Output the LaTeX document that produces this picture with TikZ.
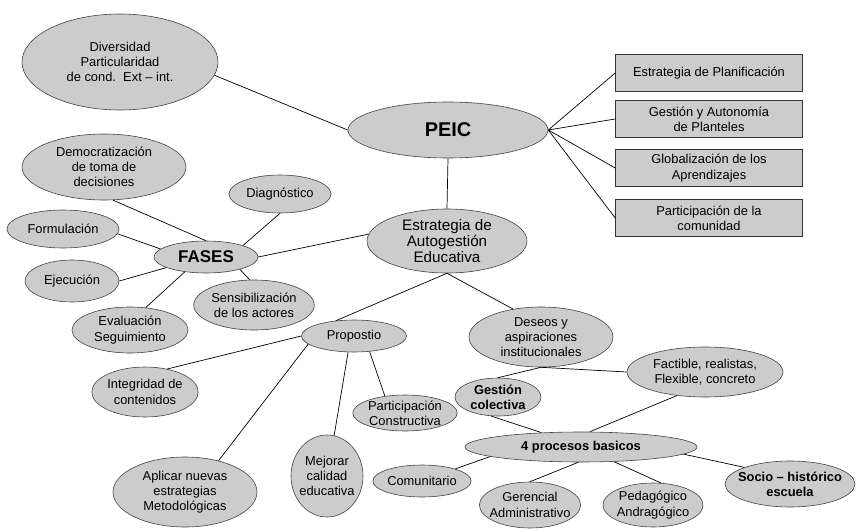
\documentclass[tikz,border=0pt]{standalone}
\usepackage{fontspec}
\setmainfont{Liberation Sans}
\usepackage{tikz}
\usetikzlibrary{shapes.geometric}
\newcommand{\px}{0.03cm}
\newcommand{\blobcolor}{black!20}
\newcommand{\rim}{0.5pt}

\begin{document}
\begin{tikzpicture}[x=\px, y=-\px,
  blob/.style={ellipse, draw=black!75, line width=\rim, fill=\blobcolor, inner sep=0pt, align=center, font=\fontsize{11}{13}\selectfont},
  box/.style={rectangle, draw=black!80, line width=\rim, fill=\blobcolor, inner sep=0pt, align=center, minimum width=187*\px, minimum height=37*\px, font=\fontsize{11}{13}\selectfont},
  link/.style={draw=black, line width=0.6pt}]
\useasboundingbox (0,0) rectangle (856,532);
%PEIC
\node[blob] (1) at (120, 62) [minimum width=196*\px, minimum height=96*\px] {Diversidad\\Particularidad\\de cond.\ \ Ext – int.};
\node[blob] (2) at (448, 130) [minimum width=200*\px, minimum height=56*\px, font=\fontsize{17}{19}\selectfont\bfseries] {PEIC};
\node[box] (3) at (709, 73) {Estrategia de Planificación};
\node[box] (4) at (709, 119) {Gestión y Autonomía\\de Planteles};
\node[box] (5) at (709, 168) {Globalización de los\\Aprendizajes};
\node[box] (6) at (709, 218) {Participación de la\\comunidad};
\node[blob] (7) at (447, 241) [minimum width=160*\px, minimum height=64*\px, font=\fontsize{13}{14}\selectfont] {Estrategia de\\Autogestión\\Educativa};
%FASES
\node[blob] (8) at (104, 167) [minimum width=164*\px, minimum height=66*\px] {Democratización\\de toma de\\decisiones};
\node[blob] (9) at (280, 194) [minimum width=102*\px, minimum height=38*\px] {Diagnóstico};
\node[blob] (10) at (63, 229) [minimum width=112*\px, minimum height=38*\px] {Formulación};
\node[blob] (11) at (206, 257) [minimum width=104*\px, minimum height=32*\px, font=\fontsize{14.5}{16}\selectfont\bfseries] {FASES};
\node[blob] (12) at (72, 281) [minimum width=94*\px, minimum height=42*\px] {Ejecución};
\node[blob] (13) at (130, 330) [minimum width=116*\px, minimum height=46*\px] {Evaluación\\Seguimiento};
\node[blob] (14) at (254, 305) [minimum width=118*\px, minimum height=50*\px] {Sensibilización\\de los actores};
%Propostio
\node[blob] (15) at (354, 336) [minimum width=105*\px, minimum height=32*\px] {Propostio};
\node[blob] (16) at (145, 392) [minimum width=104*\px, minimum height=50*\px] {Integridad de\\contenidos};
\node[blob] (17) at (185, 492) [minimum width=144*\px, minimum height=70*\px] {Aplicar nuevas\\estrategias\\Metodológicas};
\node[blob] (18) at (327, 476) [minimum width=72*\px, minimum height=82*\px, inner xsep=-2pt] {Mejorar\\calidad\\educativa};
\node[blob] (19) at (405, 413) [minimum width=104*\px, minimum height=36*\px, inner ysep=-2pt] {Participación\\Constructiva};
%Deseos
\node[blob] (20) at (541, 337) [minimum width=144*\px, minimum height=60*\px] {Deseos y\\aspiraciones\\institucionales};
\node[blob] (21) at (705, 372) [minimum width=156*\px, minimum height=50*\px] {Factible, realistas,\\Flexible, concreto};
\node[blob] (22) at (498, 397) [minimum width=86*\px, minimum height=38*\px, font=\fontsize{11}{13}\selectfont\bfseries] {Gestión\\colectiva};
\node[blob] (23) at (581, 447) [minimum width=232*\px, minimum height=30*\px, font=\fontsize{11}{13}\selectfont\bfseries] {4 procesos basicos};
\node[blob] (24) at (422, 481) [minimum width=96*\px, minimum height=32*\px] {Comunitario};
\node[blob] (25) at (530, 505) [minimum width=100*\px, minimum height=46*\px, inner xsep=-4pt] {Gerencial\\Administrativo};
\node[blob] (26) at (653, 505) [minimum width=100*\px, minimum height=44*\px, inner xsep=-2pt] {Pedagógico\\Andragógico};
\node[blob] (27) at (790, 484) [minimum width=130*\px, minimum height=46*\px, inner xsep=-6pt, font=\fontsize{11}{13}\selectfont\bfseries] {Socio – histórico\\escuela};
%links
\draw[link] (1.-8) -- (2.west);
\draw[link] (2.east) -- (3.west);
\draw[link] (2.east) -- (4.west);
\draw[link] (2.east) -- (5.west);
\draw[link] (2.east) -- (6.west);
\draw[link] (2.south) -- (7.north);
\draw[link] (8.-75) -- (11.north);
\draw[link] (9.south) -- (11.north east);
\draw[link] (10.-5) -- (11.170);
\draw[link] (12.east) -- (11.195);
\draw[link] (13.55) -- (11.215);
\draw[link] (14.100) -- (11.-20);
\draw[link] (11.east) -- (7.175);
\draw[link] (7.south) -- (15.140);
\draw[link] (7.south) -- (20.135);
\draw[link] (15.west) -- (16.46);
\draw[link] (15.190) -- (17.43);
\draw[link] (15.-110) -- (18.80);
\draw[link] (15.-45) -- (19.140);
\draw[link] (20.south) -- (22.north);
\draw[link] (20.south) -- (21.west);
\draw[link] (21.-140) -- (23.60);
\draw[link] (22.-110) -- (23.160);
\draw[link] (23.186) -- (24.20);
\draw[link] (23.-100) -- (25.north);
\draw[link] (23.-24) -- (26.70);
\draw[link] (23.-4) -- (27.160);
\end{tikzpicture}
\end{document}
